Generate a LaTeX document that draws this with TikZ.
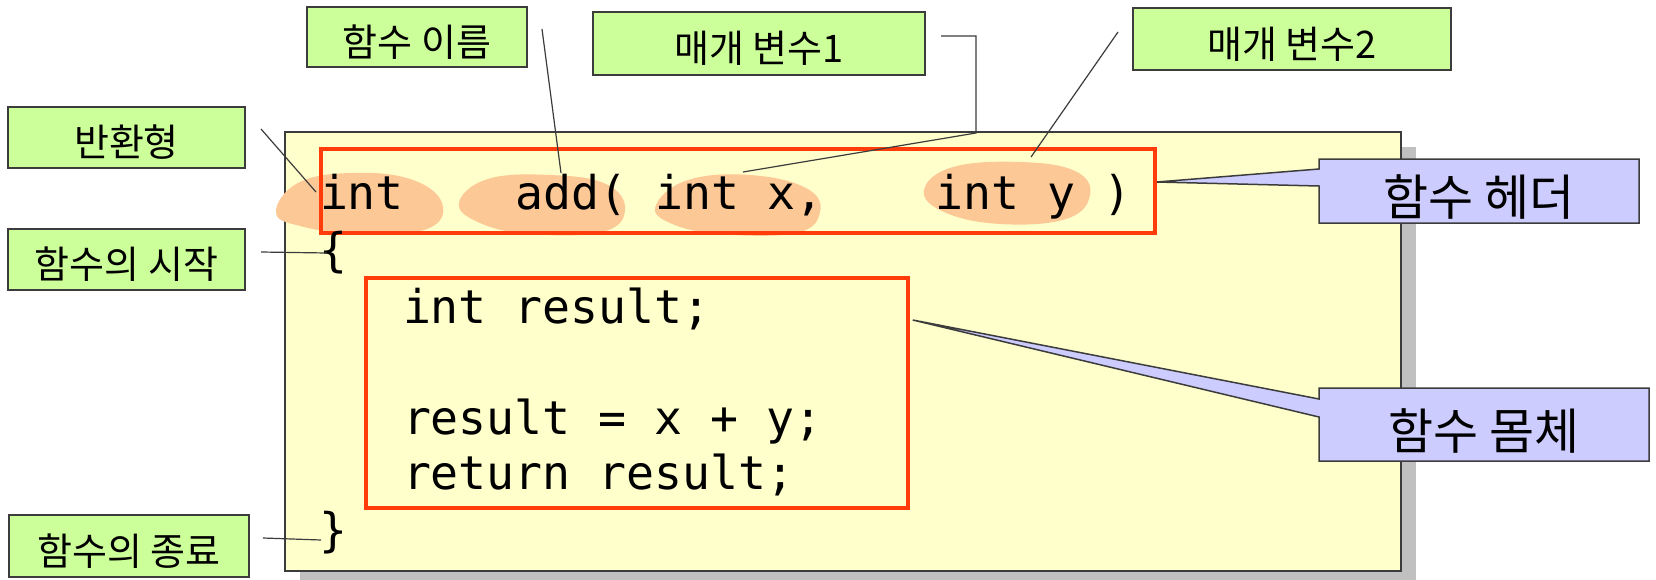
\documentclass[tikz,border=0pt]{standalone}
\usepackage{fontspec}
\newfontfamily\kofont{Noto Sans CJK KR}
\newfontfamily\codefont{DejaVu Sans Mono}
\usetikzlibrary{shadows}

\definecolor{lblgreen}{RGB}{204,255,153}
\definecolor{lblblue}{RGB}{204,204,255}
\definecolor{codebg}{RGB}{255,255,204}
\definecolor{hlred}{RGB}{255,60,10}
\definecolor{blobpeach}{RGB}{252,200,150}
\definecolor{edge}{RGB}{60,60,60}
\definecolor{shade}{RGB}{192,192,192}

\pgfdeclarelayer{back}
\pgfdeclarelayer{mid}
\pgfsetlayers{back,mid,main}

\begin{document}
\begin{tikzpicture}[x=1pt, y=-1pt,
  greenlbl/.style={draw=edge, line width=1.5pt, fill=lblgreen, inner sep=0pt, outer sep=0pt,
    font=\kofont\fontsize{38}{44}\selectfont, text height=40pt, text depth=2pt},
  bluelbl/.style={inner sep=0pt, outer sep=0pt,
    font=\kofont\fontsize{49}{56}\selectfont, text height=52pt, text depth=2.5pt},
  callout/.style={draw=edge, line width=1.5pt, fill=lblblue, line join=miter},
  codeline/.style={inner sep=0pt, outer sep=0pt, anchor=base west,
    font=\codefont\fontsize{46.5}{55}\selectfont},
  redbox/.style={draw=hlred, line width=3.5pt, inner sep=0pt},
  pointer/.style={draw=edge, line width=1.2pt},
  blob/.style={fill=blobpeach}
]
\useasboundingbox (0,0) rectangle (1656,579);

% white page, code panel with its shadow, and the highlighter marks on the header
\begin{pgfonlayer}{back}
  \fill[white] (0,0) rectangle (1656,579);
  \node[draw=edge, line width=1.3pt, fill=codebg, inner sep=0pt, outer sep=0pt,
        minimum width=1116pt, minimum height=439pt,
        drop shadow={shadow xshift=15pt, shadow yshift=-15pt, fill=shade, opacity=1}]
        (code) at (843,351.5) {};
  \fill[blob] plot[smooth cycle, tension=0.7] coordinates
    {(276,212) (298,183) (350,173) (410,179) (442,203) (427,229) (360,234) (300,226)};
  \fill[blob] plot[smooth cycle, tension=0.7] coordinates
    {(459,203) (488,179) (550,175) (606,184) (625,210) (602,232) (530,234) (480,223)};
  \fill[blob] plot[smooth cycle, tension=0.7] coordinates
    {(656,205) (688,180) (750,175) (806,188) (820,212) (796,233) (720,234) (670,223)};
  \fill[blob] plot[smooth cycle, tension=0.7] coordinates
    {(924,190) (953,167) (1020,162) (1075,171) (1090,195) (1066,219) (1000,224) (944,212)};
\end{pgfonlayer}

% header and body frames
\node[redbox, minimum width=834pt, minimum height=84pt] (hdr) at (738,191) {};
\node[redbox, minimum width=542pt, minimum height=230pt] (bdy) at (637,393) {};

% source text
\node[codeline] (hline) at (320,209) {int~~~~add(~int~x,~~~~int~y~)};
\node[codeline] (obrace) at (319,266) {\{};
\node[codeline] (b1) at (403,323) {int result;};
\node[codeline] (b2) at (403,434) {result = x + y;};
\node[codeline] (b3) at (403,489) {return result;};
\node[codeline] (cbrace) at (319,546) {\}};

% green labels
\node[greenlbl, minimum width=237pt, minimum height=61pt] (ret) at (126.5,137.5) {반환형};
\node[greenlbl, minimum width=237pt, minimum height=61pt] (beg) at (126.5,259.5) {함수의 시작};
\node[greenlbl, minimum width=240pt, minimum height=62pt] (fin) at (129,546) {함수의 종료};
\node[greenlbl, minimum width=220pt, minimum height=60pt] (fname) at (417,37) {함수 이름};
\node[greenlbl, minimum width=332pt, minimum height=63pt] (par1) at (759,43.5) {매개 변수1};
\node[greenlbl, minimum width=318pt, minimum height=62pt] (par2) at (1292,39) {매개 변수2};

% blue callouts
\node[bluelbl, minimum width=320pt, minimum height=64pt] (head) at (1479,191) {함수 헤더};
\node[bluelbl, minimum width=330pt, minimum height=73pt] (body) at (1484,424.5) {함수 몸체};

\coordinate (headTip) at ([yshift=9pt]hdr.east);
\coordinate (headA) at (1319,169);
\coordinate (headB) at (1319,186);
\coordinate (bodyTip) at ([xshift=3pt,yshift=73pt]bdy.east);
\coordinate (bodyA) at (1319,399);
\coordinate (bodyB) at (1319,417);

\begin{pgfonlayer}{mid}
  \draw[callout] (head.north west) -- (head.north east) -- (head.south east)
    -- (head.south west) -- (headB) -- (headTip) -- (headA) -- cycle;
  \draw[callout] (body.north west) -- (body.north east) -- (body.south east)
    -- (body.south west) -- (bodyB) -- (bodyTip) -- (bodyA) -- cycle;
\end{pgfonlayer}

% leader lines from the green labels
\coordinate (retS) at (261,129);   \coordinate (retE) at (316,192);
\coordinate (fnS) at (542,29);     \coordinate (fnE) at (561,173);
\coordinate (p1S) at (941,36);     \coordinate (p1K) at (976,36);
\coordinate (p1L) at (976,133);    \coordinate (p1E) at (743,172);
\coordinate (p2S) at (1118,32);    \coordinate (p2E) at (1031,157);
\coordinate (begS) at (261,252);   \coordinate (begE) at (327,253);
\coordinate (finS) at (263,538);   \coordinate (finE) at (321,540);

\draw[pointer] (retS) -- (retE);
\draw[pointer] (fnS) -- (fnE);
\draw[pointer] (p1S) -- (p1K) -- (p1L) -- (p1E);
\draw[pointer] (p2S) -- (p2E);
\draw[pointer] (begS) -- (begE);
\draw[pointer] (finS) -- (finE);
\end{tikzpicture}
\end{document}
